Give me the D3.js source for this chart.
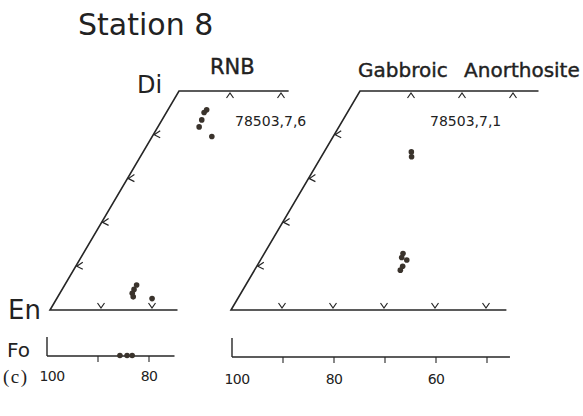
<!DOCTYPE html>
<html>
<head>
<meta charset="utf-8">
<script src="https://cdn.jsdelivr.net/npm/d3@7"></script>
<style>
  body { margin: 0; background: #fff; }
  text { font-family: "DejaVu Sans", sans-serif; fill: #222; }
</style>
</head>
<body>
<div id="chart"></div>
<script>
// Panels (pyroxene quadrilaterals, Wo vs Fs) and olivine Fo bars
const panelNames = ["RNB", "Gabbroic Anorthosite"];
const sampleIds = ["78503,7,6", "78503,7,1"];
const topEdgeFs = [21.5, 35];     // extent of Di–Hd side
const bottomEdgeFs = [25, 54];    // extent of En–Fs side
const topTicks = [[10, 20], [10, 20, 30]];
const bottomTicks = [[10, 20], [10, 20, 30, 40, 50]];
const woTicks = [10, 20, 30, 40];
const foMin = [75, 45.5];
const foTicks = [[90, 80], [90, 80, 70, 60, 50]];
const foLabels = [[100, 80], [100, 80, 60]];

// pyroxene analyses (mol % Fs, Wo)
const rnbFs = [7.6, 7.4, 7.8, 8.1, 11.7, 14.1, 14.1, 14.2, 14.8, 18.7];
const rnbWo = [45.7, 45.1, 43.4, 41.8, 39.6, 5.7, 4.7, 3.8, 3.0, 2.6];
const gabFs = [17.1, 17.7, 27.2, 27.4, 28.7, 28.6, 28.6];
const gabWo = [36.1, 35.0, 12.9, 12.0, 11.4, 10.0, 9.1];
// olivine analyses (Fo)
const rnbFo = [85.7, 84.3, 83.3];
const gabFo = [];

const width = 583, height = 416;
const ink = "#262626", dotColor = "#3a332c";

const svg = d3.select("#chart").append("svg")
  .attr("width", width)
  .attr("height", height);

// scales shared by both panels (relative to the En corner)
const fsScale = d3.scaleLinear().domain([0, 60]).range([0, 306]);
const woScale = d3.scaleLinear().domain([0, 50]).range([0, -219]);
const shear = d3.scaleLinear().domain([0, 50]).range([0, 129]);
const foScale = d3.scaleLinear().domain([100, 40]).range([0, 306]);

const panels = [
  { ox: 50, oy: 310, fx: 47, fy: 356, labelY: 381, fs: rnbFs, wo: rnbWo, fo: rnbFo },
  { ox: 231, oy: 310, fx: 232, fy: 357, labelY: 384, fs: gabFs, wo: gabWo, fo: gabFo }
];

function px(p, fs, wo) { return p.ox + fsScale(fs) + shear(wo); }
function py(p, wo) { return p.oy + woScale(wo); }

panels.forEach((p, i) => {
  const g = svg.append("g");

  // quadrilateral outline: Fs end -> En -> Di -> Hd end
  const outline = [
    [px(p, bottomEdgeFs[i], 0), py(p, 0)],
    [px(p, 0, 0), py(p, 0)],
    [px(p, 0, 50), py(p, 50)],
    [px(p, topEdgeFs[i], 50), py(p, 50)]
  ];
  g.append("path")
    .attr("d", d3.line()(outline))
    .attr("fill", "none")
    .attr("stroke", ink)
    .attr("stroke-width", 1.6)
    .attr("stroke-linejoin", "miter");

  // chevron ticks
  const tickG = g.append("g")
    .attr("fill", "none")
    .attr("stroke", ink)
    .attr("stroke-width", 1.2);

  topTicks[i].forEach(t => {
    const x = px(p, t, 50), y = py(p, 50);
    tickG.append("path").attr("d", `M${x - 3.5},${y + 7} L${x},${y + 2} L${x + 3.5},${y + 7}`);
  });
  bottomTicks[i].forEach(t => {
    const x = px(p, t, 0), y = py(p, 0);
    tickG.append("path").attr("d", `M${x - 3.5},${y - 7} L${x},${y - 2} L${x + 3.5},${y - 7}`);
  });
  woTicks.forEach(t => {
    const x = px(p, 0, t), y = py(p, t);
    tickG.append("path").attr("d", `M${x + 7},${y - 4} L${x + 1},${y} L${x + 7},${y + 3}`);
  });

  // data points
  g.selectAll("circle.px")
    .data(d3.range(p.fs.length))
    .enter()
    .append("circle")
    .attr("class", "px")
    .attr("cx", k => px(p, p.fs[k], p.wo[k]))
    .attr("cy", k => py(p, p.wo[k]))
    .attr("r", 2.8)
    .attr("fill", dotColor);

  // panel title and sample number
  g.append("text")
    .attr("x", i === 0 ? 210 : 358)
    .attr("y", i === 0 ? 74 : 77)
    .attr("font-size", i === 0 ? 21 : 20)
    .attr("word-spacing", 10)
    .attr("stroke", "#222")
    .attr("stroke-width", 0.4)
    .text(panelNames[i]);

  g.append("text")
    .attr("x", i === 0 ? 235 : 430)
    .attr("y", 126)
    .attr("font-size", 14)
    .text(sampleIds[i]);

  // Fo bar
  const fg = g.append("g").attr("stroke", ink).attr("fill", "none").attr("stroke-width", 1.4);
  fg.append("line")
    .attr("x1", p.fx).attr("x2", p.fx)
    .attr("y1", p.fy - 19).attr("y2", p.fy);
  fg.append("line")
    .attr("x1", p.fx).attr("x2", p.fx + foScale(foMin[i]))
    .attr("y1", p.fy).attr("y2", p.fy);
  foTicks[i].forEach(t => {
    fg.append("line")
      .attr("x1", p.fx + foScale(t)).attr("x2", p.fx + foScale(t))
      .attr("y1", p.fy).attr("y2", p.fy + 6)
      .attr("stroke-width", 1.1);
  });
  g.selectAll("text.fo")
    .data(foLabels[i])
    .enter()
    .append("text")
    .attr("class", "fo")
    .attr("x", d => p.fx + foScale(d) + (d === 100 ? 5 : 0))
    .attr("y", p.labelY)
    .attr("text-anchor", "middle")
    .attr("font-size", 14)
    .attr("letter-spacing", -0.6)
    .text(d => d);

  g.selectAll("circle.fo")
    .data(p.fo)
    .enter()
    .append("circle")
    .attr("class", "fo")
    .attr("cx", d => p.fx + foScale(d))
    .attr("cy", p.fy - 0.5)
    .attr("r", 2.8)
    .attr("fill", dotColor);
});

// title and end-member labels
svg.append("text")
  .attr("x", 78).attr("y", 35)
  .attr("font-size", 30)
  .text("Station 8");

svg.append("text").attr("x", 137).attr("y", 93).attr("font-size", 24).text("Di");
svg.append("text").attr("x", 8).attr("y", 319).attr("font-size", 26).text("En");
svg.append("text").attr("x", 7).attr("y", 357).attr("font-size", 20).text("Fo");

svg.append("text")
  .attr("x", 3).attr("y", 383)
  .attr("font-size", 19)
  .attr("letter-spacing", 1.5)
  .style("font-family", "'Liberation Serif', serif")
  .text("(c)");
</script>
</body>
</html>
